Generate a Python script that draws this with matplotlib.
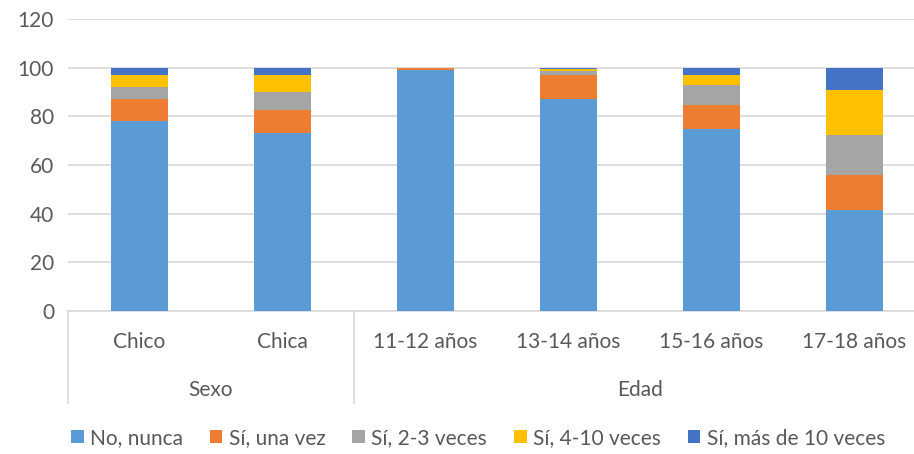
import numpy as np
import matplotlib.pyplot as plt
from matplotlib.transforms import blended_transform_factory

categories = ["Chico", "Chica", "11-12 años", "13-14 años", "15-16 años", "17-18 años"]
groups = ["Sexo", "Edad"]
group_sizes = [2, 4]

series = ["No, nunca", "Sí, una vez", "Sí, 2-3 veces", "Sí, 4-10 veces", "Sí, más de 10 veces"]
nunca = [78.2, 73.1, 99.0, 87.3, 74.8, 41.7]
una_vez = [8.8, 9.4, 1.0, 9.5, 9.9, 14.3]
dos_tres = [4.9, 7.4, 0.0, 1.7, 8.0, 16.4]
cuatro_diez = [4.9, 6.9, 0.0, 1.1, 4.1, 18.6]
mas_diez = [3.2, 3.2, 0.0, 0.4, 3.2, 9.0]

colors = ["#5B9BD5", "#ED7D31", "#A5A5A5", "#FFC000", "#4472C4"]
text_color = "#595959"
grid_color = "#D9D9D9"

plt.rcParams["font.family"] = ["Lato", "DejaVu Sans"]

fig = plt.figure(figsize=(9.14, 4.54), dpi=100)
ax = fig.add_axes([68 / 914, 1 - 311 / 454, 846 / 914, 292 / 454])

x = np.arange(len(categories))
bottom = np.zeros(len(categories))
for name, vals, col in zip(series, [nunca, una_vez, dos_tres, cuatro_diez, mas_diez], colors):
    ax.bar(x, vals, width=0.4, bottom=bottom, color=col, label=name, zorder=3)
    bottom += np.array(vals)

ax.set_ylim(0, 120)
ax.set_xlim(-0.5, -0.5 + 846 / 143)
ax.set_yticks(range(0, 121, 20))
ax.yaxis.grid(True, color=grid_color, linewidth=1.2, zorder=0)
ax.set_axisbelow(True)
for s in ["top", "right", "left"]:
    ax.spines[s].set_visible(False)
ax.spines["bottom"].set_color(grid_color)
ax.spines["bottom"].set_linewidth(1.2)
ax.tick_params(axis="y", length=0, pad=10, labelsize=15, labelcolor=text_color)
ax.set_xticks([])

# two-level category axis below the plot
tr = blended_transform_factory(ax.transData, fig.transFigure)
y_top, y_bot = 1 - 311 / 454, 1 - 403 / 454
for i, lab in enumerate(categories):
    ax.text(i, 1 - 342 / 454, lab, transform=tr, ha="center", va="center",
            fontsize=15, color=text_color)
start = -0.5
for g, n in zip(groups, group_sizes):
    ax.plot([start, start], [y_top, y_bot], transform=tr, color=grid_color,
            linewidth=1.2, clip_on=False)
    ax.text(start + n / 2, 1 - 390 / 454, g, transform=tr, ha="center", va="center",
            fontsize=15, color=text_color)
    start += n

fig.legend(loc="center", bbox_to_anchor=(478 / 914, 1 - 438 / 454), ncol=5,
           frameon=False, fontsize=15, labelcolor=text_color, handlelength=0.6,
           handleheight=0.6, handletextpad=0.3, columnspacing=1.3)

fig.savefig("out.png", dpi=100)
